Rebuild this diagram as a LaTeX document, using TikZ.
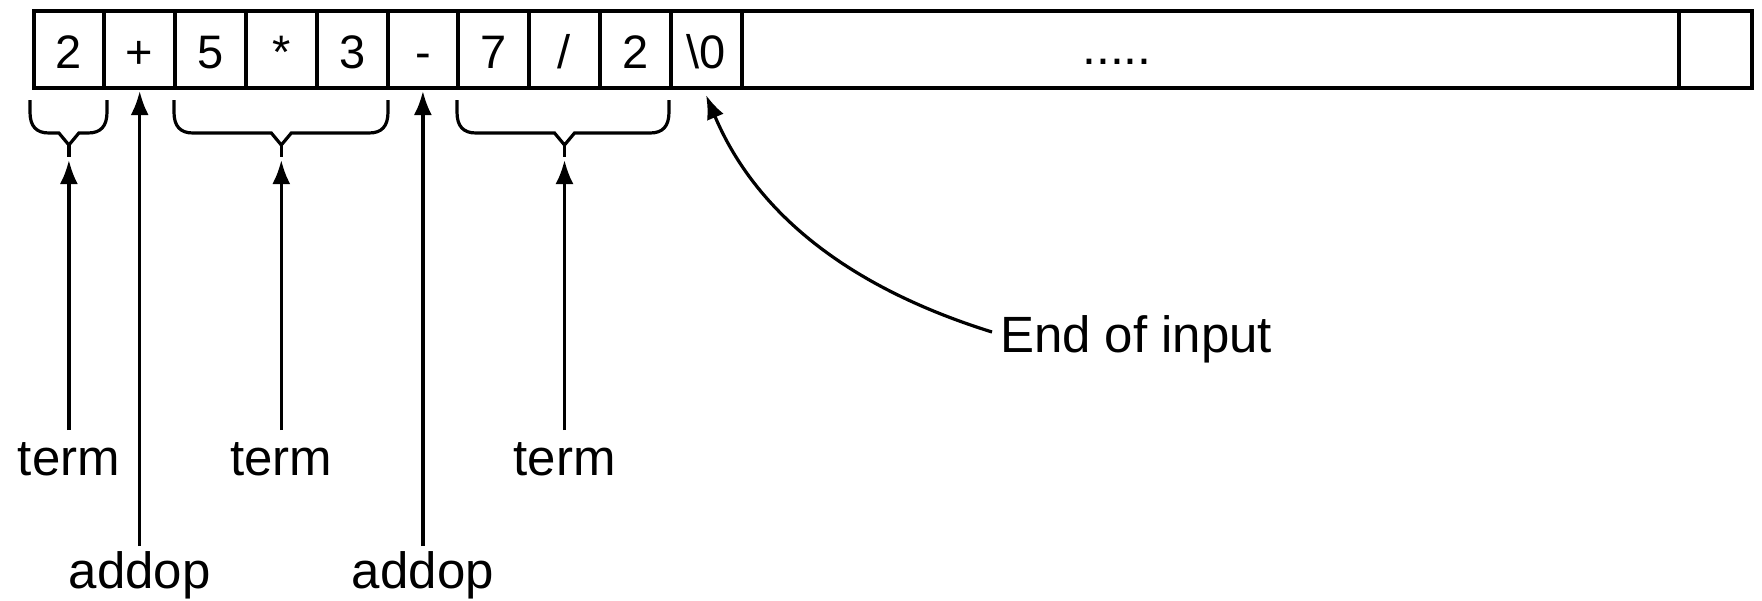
\documentclass[tikz,border=0pt]{standalone}
\usepackage{fontspec}
\setmainfont{Liberation Sans}
\usetikzlibrary{arrows.meta,calc}
\newcommand{\mybrace}[3]{%
  \draw[brc] (#1,100) -- (#1,112) .. controls (#1,126) and (#1+6,133) .. (#1+19,133)
    -- (#3-10,133) -- (#3,145) -- (#3+10,133) -- (#2-19,133)
    .. controls (#2-6,133) and (#2,126) .. (#2,112) -- (#2,100);
  \draw[brc] (#3,145) -- (#3,157);}
\begin{document}
\begin{tikzpicture}[x=1pt,y=-1pt,
  cell/.style={draw, line width=4pt, minimum width=70.8pt, minimum height=77pt,
    inner sep=0pt, outer sep=0pt, text height=37pt, text depth=0pt,
    font=\fontsize{47}{56}\selectfont},
  lbl/.style={inner sep=0pt, outer sep=0pt, anchor=base, font=\fontsize{51}{60}\selectfont},
  brc/.style={line width=3.2pt, line join=miter},
  arr/.style={line width=3.2pt, -{Latex[length=24pt,width=18pt]}}]
\useasboundingbox (0,0) rectangle (1762,600);
% cells
\node[cell] (c0) at (68.9,49.5) {2};
\node[cell] (c1) at (139.7,49.5) {+};
\node[cell] (c2) at (210.5,49.5) {5};
\node[cell] (c3) at (281.3,49.5) {*};
\node[cell] (c4) at (352.1,49.5) {3};
\node[cell] (c5) at (422.9,49.5) {-};
\node[cell] (c6) at (493.7,49.5) {7};
\node[cell] (c7) at (564.5,49.5) {/};
\node[cell] (c8) at (635.3,49.5) {2};
\node[cell] (c9) at (706.1,49.5) {\textbackslash 0};
\node[cell, minimum width=937.5pt] (cbig) at (1210.25,49.5) {};
\node[cell, minimum width=73pt] (clast) at (1715.5,49.5) {};
\node[inner sep=0pt, anchor=base, font=\fontsize{50}{60}\selectfont] (dots) at (1117,64) {.....};
% braces
\mybrace{30}{107}{68.9}
\mybrace{174}{388}{281.3}
\mybrace{457}{669}{564.5}
% tips
\coordinate (b1) at (68.9,160);
\coordinate (b2) at (281.3,160);
\coordinate (b3) at (564.5,160);
\coordinate (p1) at (139.7,91);
\coordinate (p2) at (422.9,91);
\coordinate (e9) at (706,95);
% labels
\node[lbl] (t1) at (68.9,475) {term};
\node[lbl] (t2) at (281.3,475) {term};
\node[lbl] (t3) at (564.5,475) {term};
\node[lbl] (a1) at (139.7,588) {addop};
\node[lbl] (a2) at (422.9,588) {addop};
\node[lbl, anchor=base west] (eoi) at (1000,352) {End of input};
% arrows
\draw[arr, shorten <=12pt] (t1.north) -- (b1);
\draw[arr, shorten <=12pt] (t2.north) -- (b2);
\draw[arr, shorten <=12pt] (t3.north) -- (b3);
\draw[arr, shorten <=5pt] (a1.north) -- (p1);
\draw[arr, shorten <=5pt] (a2.north) -- (p2);
\draw[arr] ($(eoi.base west)+(-8,-20)$) .. controls (825,280) and (748,195) .. (e9);
\end{tikzpicture}
\end{document}
